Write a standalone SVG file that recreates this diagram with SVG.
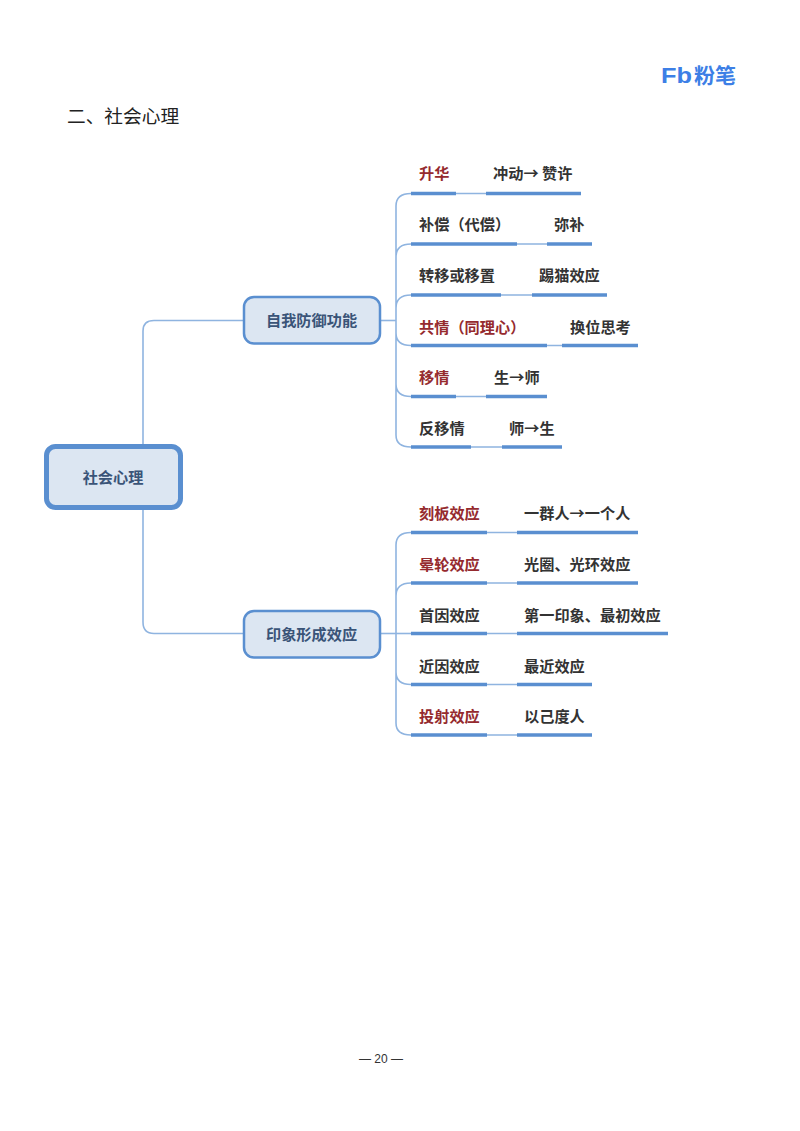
<svg xmlns="http://www.w3.org/2000/svg" width="800" height="1131" viewBox="0 0 800 1131">
<style>
text{font-family:"Noto Sans CJK SC","Noto Sans",sans-serif}
.l{font-size:15.2px;font-weight:700;fill:#333}
.r{font-size:15.2px;font-weight:700;fill:#952a2e}
.n{font-size:15.2px;font-weight:700;fill:#3a5478;text-anchor:middle}
.b{stroke:#5a8fd0;stroke-width:3.500;fill:none}
.t{stroke:#8fb4e0;stroke-width:1.600;fill:none}
.box{fill:#dce6f2;stroke:#5a8fd0}
</style>
<rect width="800" height="1131" fill="#fff"/>
<g id="logo">
<text x="661" y="83" font-size="22" font-weight="700" fill="#3d7fe6" textLength="31" lengthAdjust="spacingAndGlyphs" style="font-family:'Liberation Sans',sans-serif">Fb</text>
<text x="694" y="83" font-size="21" font-weight="700" fill="#3d7fe6" textLength="42" lengthAdjust="spacingAndGlyphs">粉笔</text>
</g>
<text id="title" x="67" y="122.500" font-size="18.700" fill="#222">二、社会心理</text>
<g id="connectors">
<path class="t" d="M143 444V331Q143 320.500 154 320.500H243"/>
<path class="t" d="M143 510V622Q143 633.500 154 633.500H243"/>
<path class="t" d="M381 320.500H396"/>
<path class="t" d="M396 206Q396 193.500 411 193.500M396 257Q396 244 411 244M396 308Q396 295 411 295M396 333Q396 345.500 411 345.500M396 384Q396 396.500 411 396.500M396 435Q396 447 411 447M396 206V435"/>
<path class="t" d="M381 633.500H411"/>
<path class="t" d="M396 545Q396 532.500 411 532.500M396 596Q396 583 411 583M396 672Q396 684.500 411 684.500M396 723Q396 735 411 735M396 545V723"/>
<path class="t" d="M456 193.500H486M517 244H547M501 295H532M547 345.500H562M456 396.500H486M471 447H502"/>
<path class="t" d="M487 532.500H517M487 583H517M487 633.500H517M487 684.500H517M487 735H517"/>
</g>
<g id="root"><rect class="box" x="46.500" y="446.500" width="134" height="61" rx="9" stroke-width="5"/><text class="n" x="113" y="483">社会心理</text></g>
<g id="n1"><rect class="box" x="244" y="297" width="136" height="46.500" rx="10" stroke-width="2.500"/><text class="n" x="311.500" y="326">自我防御功能</text></g>
<g id="n2"><rect class="box" x="244" y="611" width="136" height="46.500" rx="10" stroke-width="2.500"/><text class="n" x="311.500" y="640">印象形成效应</text></g>
<g id="a1"><path class="b" d="M411 193.500H456"/><text class="r" x="419" y="179">升华</text></g>
<g id="a2"><path class="b" d="M486 193.500H581"/><text class="l" x="493" y="179">冲动→ 赞许</text></g>
<g id="b1"><path class="b" d="M411 244H517"/><text class="l" x="419" y="230">补偿（代偿）</text></g>
<g id="b2"><path class="b" d="M547 244H592"/><text class="l" x="554" y="230">弥补</text></g>
<g id="c1"><path class="b" d="M411 295H501"/><text class="l" x="419" y="281">转移或移置</text></g>
<g id="c2"><path class="b" d="M532 295H607"/><text class="l" x="539" y="281">踢猫效应</text></g>
<g id="d1"><path class="b" d="M411 345.500H547"/><text class="r" x="419" y="333">共情（同理心）</text></g>
<g id="d2"><path class="b" d="M562 345.500H638"/><text class="l" x="570" y="333">换位思考</text></g>
<g id="e1"><path class="b" d="M411 396.500H456"/><text class="r" x="419" y="383">移情</text></g>
<g id="e2"><path class="b" d="M486 396.500H547"/><text class="l" x="494" y="383">生→师</text></g>
<g id="f1"><path class="b" d="M411 447H471"/><text class="l" x="419" y="434">反移情</text></g>
<g id="f2"><path class="b" d="M502 447H562"/><text class="l" x="509" y="434">师→生</text></g>
<g id="g1"><path class="b" d="M411 532.500H487"/><text class="r" x="419" y="519">刻板效应</text></g>
<g id="g2"><path class="b" d="M517 532.500H638"/><text class="l" x="524" y="519">一群人→一个人</text></g>
<g id="h1"><path class="b" d="M411 583H487"/><text class="r" x="419" y="570">晕轮效应</text></g>
<g id="h2"><path class="b" d="M517 583H638"/><text class="l" x="524" y="570">光圈、光环效应</text></g>
<g id="i1"><path class="b" d="M411 633.500H487"/><text class="l" x="419" y="621">首因效应</text></g>
<g id="i2"><path class="b" d="M517 633.500H668"/><text class="l" x="524" y="621">第一印象、最初效应</text></g>
<g id="j1"><path class="b" d="M411 684.500H487"/><text class="l" x="419" y="672">近因效应</text></g>
<g id="j2"><path class="b" d="M517 684.500H592"/><text class="l" x="524" y="672">最近效应</text></g>
<g id="k1"><path class="b" d="M411 735H487"/><text class="r" x="419" y="722">投射效应</text></g>
<g id="k2"><path class="b" d="M517 735H592"/><text class="l" x="524" y="722">以己度人</text></g>
<text id="page" x="381" y="1063" font-size="12" fill="#333" text-anchor="middle" style="font-family:'Liberation Sans',sans-serif">— 20 —</text>
</svg>
